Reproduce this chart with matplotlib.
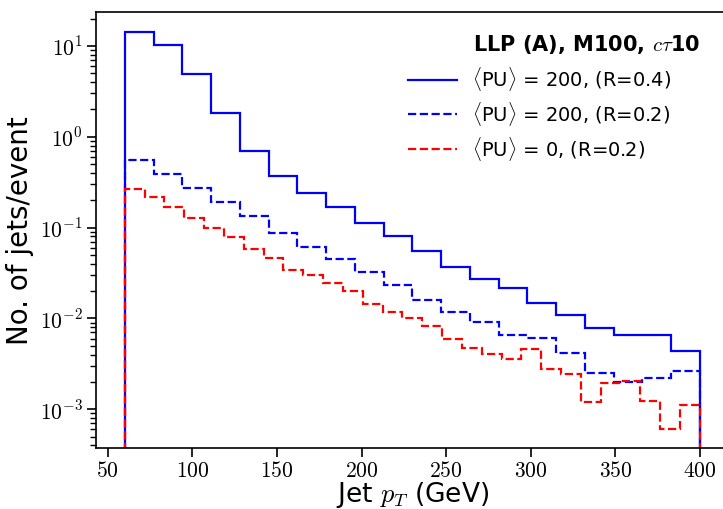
import numpy as np
import matplotlib
matplotlib.use("Agg")
import matplotlib.pyplot as plt
from matplotlib.ticker import FuncFormatter, LogLocator

plt.rcParams["mathtext.fontset"] = "cm"
plt.rcParams["font.family"] = "DejaVu Sans"

# binning: R=0.4 / R=0.2 with PU use 20 bins, PU=0 sample uses 29 bins
edges_pu200 = np.linspace(60, 400, 21)
edges_pu0 = np.linspace(60, 400, 30)

jets_pu200_r04 = [14.4, 10.3, 4.95, 1.84, 0.70, 0.373, 0.239, 0.170, 0.113, 0.0807,
                  0.0548, 0.0371, 0.0272, 0.0214, 0.0149, 0.0109, 0.0079, 0.00656,
                  0.00656, 0.00438]
jets_pu200_r02 = [0.56, 0.389, 0.271, 0.190, 0.133, 0.087, 0.061, 0.0451, 0.0327, 0.0235,
                  0.0160, 0.01175, 0.0092, 0.00656, 0.00604, 0.00412, 0.00248, 0.00201,
                  0.00222, 0.00265]
jets_pu0_r02 = [0.266, 0.219, 0.169, 0.129, 0.098, 0.0794, 0.0586, 0.0467, 0.0339, 0.0299,
                0.0244, 0.0202, 0.0144, 0.0119, 0.0102, 0.0082, 0.0060, 0.00476, 0.00402,
                0.00354, 0.0046, 0.00275, 0.00244, 0.00121, 0.00195, 0.00205, 0.00122,
                0.00061, 0.0011]

labels = [r"$\langle$PU$\rangle$ = 200, (R=0.4)",
          r"$\langle$PU$\rangle$ = 200, (R=0.2)",
          r"$\langle$PU$\rangle$ = 0, (R=0.2)"]
xticks = [50, 100, 150, 200, 250, 300, 350, 400]

fig = plt.figure(figsize=(7.23, 5.09), dpi=100)
W, H = 723, 509
ax = fig.add_axes([96 / W, 1 - 448.3 / H, (728.7 - 96) / W, (448.3 - 12) / H])

ax.stairs(jets_pu200_r04, edges_pu200, baseline=1e-6, color="#0000ff", lw=1.6, ls="-", label=labels[0])
ax.stairs(jets_pu200_r02, edges_pu200, baseline=1e-6, color="#0000ff", lw=1.6, ls="--", label=labels[1])
ax.stairs(jets_pu0_r02, edges_pu0, baseline=1e-6, color="#ff0000", lw=1.6, ls="--", label=labels[2])

ax.set_yscale("log")
ax.set_xlim(43, 417)
ax.set_ylim(10 ** -3.43, 10 ** 1.374)
ax.set_xticks(xticks)
ax.set_xticklabels([f"${t}$" for t in xticks])
ax.yaxis.set_major_locator(LogLocator(base=10))
ax.yaxis.set_major_formatter(FuncFormatter(lambda v, _: rf"$10^{{{int(round(np.log10(v)))}}}$"))
ax.tick_params(which="major", direction="out", length=6.5, width=1.2, labelsize=15.5, pad=3)
ax.tick_params(which="minor", direction="out", length=4, width=1.0)
ax.tick_params(axis="x", which="minor", bottom=False)
for s in ax.spines.values():
    s.set_linewidth(1.2)

ax.set_xlabel(r"Jet $p_T$ (GeV)", fontsize=19, labelpad=-1)
ax.set_ylabel("No. of jets/event", fontsize=20, labelpad=4)

fig.text(473 / W, 1 - 45 / H, r"LLP (A), M100, $c\tau$10", fontsize=15,
         fontweight="bold", ha="left", va="center")
ax.legend(loc="upper left", bbox_to_anchor=(408 / W, 1 - 65 / H),
          bbox_transform=fig.transFigure, frameon=False, fontsize=14,
          handlelength=2.5, handletextpad=0.8, labelspacing=0.35,
          borderpad=0, borderaxespad=0)

fig.savefig("out.png", dpi=100)
